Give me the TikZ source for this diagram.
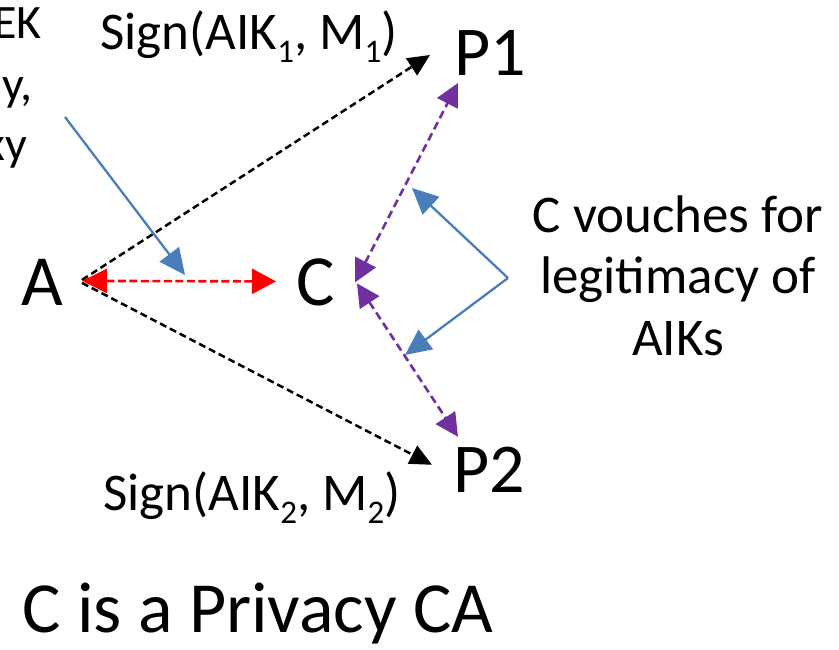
\documentclass[tikz,border=0pt]{standalone}
\usepackage{fontspec}
\setmainfont{Carlito}
\usetikzlibrary{arrows.meta,calc}
\definecolor{lineblue}{HTML}{4A7EBB}
\definecolor{vpurple}{HTML}{7030A0}
\definecolor{vred}{HTML}{FF0000}
% small lowered index for AIK_n, M_n
\newcommand{\subidx}[1]{\raisebox{-13pt}{\fontsize{33}{38}\selectfont #1}}
\begin{document}
\begin{tikzpicture}[x=1pt,y=-1pt,
  party/.style={font=\fontsize{72}{86}\selectfont, inner sep=0pt, anchor=base},
  peer/.style={font=\fontsize{70}{84}\selectfont, inner sep=0pt, anchor=base},
  msg/.style={font=\fontsize{53}{62}\selectfont, inner sep=0pt, anchor=base},
  note/.style={font=\fontsize{53}{61.5}\selectfont, inner sep=0pt, align=center},
  side/.style={font=\fontsize{48}{61}\selectfont, inner sep=0pt, anchor=base east},
  caption/.style={font=\fontsize{72}{86}\selectfont, inner sep=0pt, anchor=base},
  blkdash/.style={draw=black, line width=2.5pt, dash pattern=on 7pt off 4pt,
    -{Triangle[length=22pt,width=20pt]}},
  reddash/.style={draw=vred, line width=2.6pt, dash pattern=on 8pt off 3.5pt,
    {Triangle[length=25pt,width=24pt]}-{Triangle[length=24pt,width=25pt]}},
  purpdash/.style={draw=vpurple, line width=2.6pt, dash pattern=on 8pt off 4.5pt,
    {Triangle[length=23pt,width=23pt]}-{Triangle[length=23pt,width=23pt]}},
  bluearrow/.style={draw=lineblue, line width=2.3pt,
    -{Triangle[length=26pt,width=24pt]}},
]
\useasboundingbox (0,0) rectangle (839,649);

% parties
\node[party] (A) at (42,305) {A};
\node[party] (C) at (316,305) {C};
\node[peer] (P1) at (490,75) {P1};
\node[peer] (P2) at (489,492) {P2};

% message labels
\node[msg] (s1) at (249,49) {Sign(AIK\subidx{1}, M\subidx{1})};
\node[msg] (s2) at (252,510) {Sign(AIK\subidx{2}, M\subidx{2})};

% side note text on the left edge
\node[side] (n1) at (42,38) {EK};
\node[side] (n2) at (33,100) {y,};
\node[side] (n3) at (27,160) {xy};

% explanation on the right
\node[note, anchor=base] (vouch) at (678,355) {C vouches for\\legitimacy of\\AIKs};

% caption
\node[caption] (cap) at (258,632) {C is a Privacy CA};

% signed messages
\draw[blkdash] ($(A)+(40,-2)$) -- ($(P1)+(-60,2.5)$);
\draw[blkdash] ($(A)+(40,1)$) -- ($(P2)+(-57,-4.5)$);

% A <-> C exchange
\draw[reddash] ($(A)+(40,-1)$) -- ($(C)+(-40,-0.5)$);

% C <-> verifiers
\draw[purpdash] ($(C)+(39,0.5)$) -- ($(P1)+(-32,30.5)$);
\draw[purpdash] ($(C)+(41,1.5)$) -- ($(P2)+(-31,-32.5)$);

% pointer from the left note
\coordinate (ekTail) at (65,117);
\coordinate (ekTip) at (185,275);
\draw[bluearrow] (ekTail) -- (ekTip);

% pointers from the vouching note
\coordinate (hub) at (508,278);
\coordinate (upTip) at (412,188);
\coordinate (downTip) at (405,355);
\draw[bluearrow] (hub) -- (upTip);
\draw[bluearrow] (hub) -- (downTip);
\end{tikzpicture}
\end{document}
